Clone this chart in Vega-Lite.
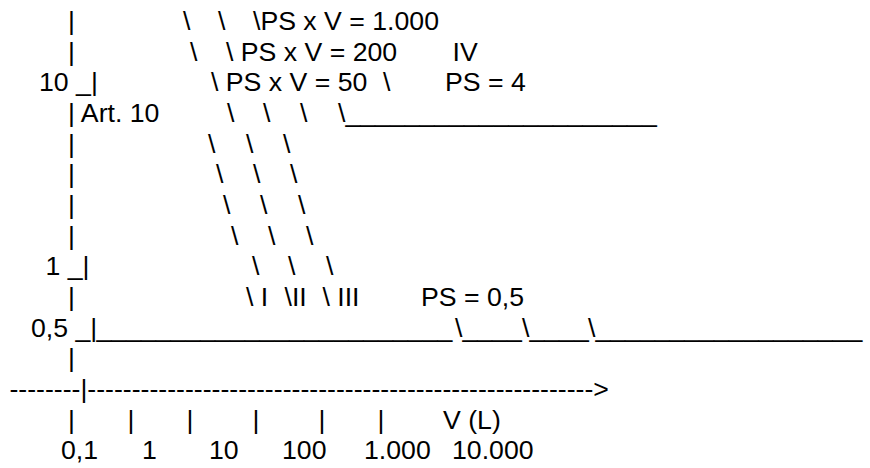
{
  "$schema": "https://vega.github.io/schema/vega-lite/v6.json",
  "width": 870,
  "height": 468,
  "autosize": {"type": "fit", "contains": "padding"},
  "padding": 0,
  "background": "white",
  "config": {"view": {"stroke": null}},
  "data": {
    "values": [
      {"line": 1, "x": 68, "text": "|"},
      {"line": 1, "x": 183, "text": "\\"},
      {"line": 1, "x": 218, "text": "\\"},
      {"line": 1, "x": 253, "text": "\\PS x V = 1.000"},
      {"line": 2, "x": 68, "text": "|"},
      {"line": 2, "x": 190, "text": "\\"},
      {"line": 2, "x": 226, "text": "\\ PS x V = 200"},
      {"line": 2, "x": 452.5, "text": "IV"},
      {"line": 3, "x": 39, "text": "10 _|"},
      {"line": 3, "x": 211, "text": "\\ PS x V = 50"},
      {"line": 3, "x": 383, "text": "\\"},
      {"line": 3, "x": 445, "text": "PS = 4"},
      {"line": 4, "x": 68, "text": "| Art. 10"},
      {"line": 4, "x": 227, "text": "\\"},
      {"line": 4, "x": 263, "text": "\\"},
      {"line": 4, "x": 300, "text": "\\"},
      {"line": 4, "x": 338, "text": "\\_____________________"},
      {"line": 5, "x": 68, "text": "|"},
      {"line": 5, "x": 208, "text": "\\"},
      {"line": 5, "x": 246, "text": "\\"},
      {"line": 5, "x": 283, "text": "\\"},
      {"line": 6, "x": 68, "text": "|"},
      {"line": 6, "x": 216, "text": "\\"},
      {"line": 6, "x": 253, "text": "\\"},
      {"line": 6, "x": 290, "text": "\\"},
      {"line": 7, "x": 68, "text": "|"},
      {"line": 7, "x": 223, "text": "\\"},
      {"line": 7, "x": 260, "text": "\\"},
      {"line": 7, "x": 298, "text": "\\"},
      {"line": 8, "x": 68, "text": "|"},
      {"line": 8, "x": 231, "text": "\\"},
      {"line": 8, "x": 268, "text": "\\"},
      {"line": 8, "x": 306, "text": "\\"},
      {"line": 9, "x": 45.5, "text": "1 _|"},
      {"line": 9, "x": 252, "text": "\\"},
      {"line": 9, "x": 288, "text": "\\"},
      {"line": 9, "x": 326, "text": "\\"},
      {"line": 10, "x": 68, "text": "|"},
      {"line": 10, "x": 246, "text": "\\ I"},
      {"line": 10, "x": 284.5, "text": "\\II"},
      {"line": 10, "x": 322.5, "text": "\\ III"},
      {"line": 10, "x": 421, "text": "PS = 0,5"},
      {"line": 11, "x": 31, "text": "0,5 _|"},
      {"line": 11, "x": 96.5, "text": "________________________"},
      {"line": 11, "x": 455, "text": "\\____"},
      {"line": 11, "x": 522, "text": "\\____"},
      {"line": 11, "x": 588, "text": "\\__________________"},
      {"line": 12, "x": 68, "text": "|"},
      {"line": 13, "x": 9.4, "text": "--------|--------------------------------------------------------->"},
      {"line": 14, "x": 68, "text": "|"},
      {"line": 14, "x": 127.5, "text": "|"},
      {"line": 14, "x": 186.5, "text": "|"},
      {"line": 14, "x": 252.5, "text": "|"},
      {"line": 14, "x": 318.5, "text": "|"},
      {"line": 14, "x": 377.5, "text": "|"},
      {"line": 14, "x": 443, "text": "V (L)"},
      {"line": 15, "x": 61, "text": "0,1"},
      {"line": 15, "x": 142, "text": "1"},
      {"line": 15, "x": 209, "text": "10"},
      {"line": 15, "x": 282, "text": "100"},
      {"line": 15, "x": 364, "text": "1.000"},
      {"line": 15, "x": 452, "text": "10.000"}
    ]
  },
  "mark": {
    "type": "text",
    "align": "left",
    "baseline": "alphabetic",
    "font": "Liberation Sans",
    "fontSize": 26.67,
    "color": "black"
  },
  "encoding": {
    "x": {
      "field": "x",
      "type": "quantitative",
      "scale": {"domain": [0, 870], "nice": false, "zero": false},
      "axis": null
    },
    "y": {
      "field": "line",
      "type": "quantitative",
      "scale": {"domain": [0.02185, 15.281], "nice": false, "zero": false, "reverse": true},
      "axis": null
    },
    "text": {"field": "text", "type": "nominal"}
  }
}
